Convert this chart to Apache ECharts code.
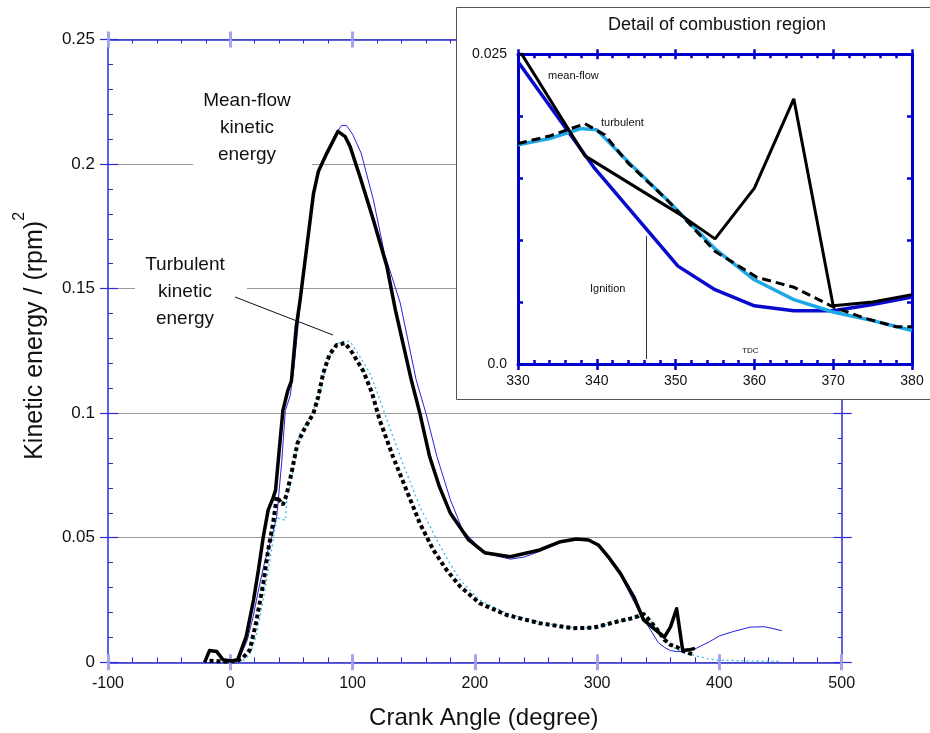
<!DOCTYPE html>
<html><head><meta charset="utf-8">
<script src="https://cdn.jsdelivr.net/npm/echarts@6/dist/echarts.min.js"></script>
<style>html,body{margin:0;padding:0;background:#fff}#c{width:930px;height:733px}</style>
</head><body><div id="c"></div>
<script>
// ---------- DATA (crank angle [deg], kinetic energy [(rpm)^2]) ----------
const mainXTicks = [-100, 0, 100, 200, 300, 400, 500];
const mainYTicks = [0, 0.05, 0.1, 0.15, 0.2, 0.25];
const insetXTicks = [330, 340, 350, 360, 370, 380];
const insetYLabelValues = [0, 0.025];
const insetYLabelTexts = ['0.0', '0.025'];

// mean-flow kinetic energy, thin blue curve
const meanFlowBlue = [[-21,0],[-17,0.0045],[-12,0.0042],[-6,0.001],[1,0.0005],[7,0.001],[14,0.009],[19,0.019],[23,0.029],[28,0.04],[34,0.0504],[38,0.0585],[42,0.08],[45,0.101],[49,0.107],[52,0.118],[57,0.143],[68,0.188],[72,0.196],[79,0.205],[86,0.212],[91,0.2155],[95,0.2155],[100,0.212],[107,0.2044],[117,0.1857],[126,0.1643],[139,0.1442],[152,0.1134],[160,0.1],[169,0.0826],[180,0.0652],[190,0.0531],[208,0.0438],[229,0.0414],[240,0.0422],[253,0.0445],[270,0.048],[283,0.0494],[293,0.049],[301,0.0466],[310,0.041],[319,0.035],[330,0.0244],[340,0.0159],[350,0.0079],[355,0.006],[360,0.0047],[365,0.0043],[370,0.0043],[381,0.0056],[392,0.0083],[400,0.0106],[411,0.0123],[425,0.0141],[437,0.0143],[451,0.0127]];
// mean-flow kinetic energy, thick black curve
const meanFlowBlack = [[-21,0],[-17,0.0047],[-11,0.0043],[-6,0.001],[1,0.0005],[6,0.001],[13,0.0103],[19,0.025],[23,0.037],[27,0.0504],[31,0.0612],[35,0.066],[37,0.069],[43,0.101],[47,0.109],[50,0.113],[54,0.135],[57,0.145],[68,0.188],[72,0.197],[79,0.2044],[88,0.2131],[94,0.211],[98,0.207],[106,0.195],[117,0.1776],[128,0.159],[135,0.1415],[148,0.1134],[155,0.1],[163,0.0826],[171,0.0705],[180,0.0598],[195,0.0491],[208,0.044],[229,0.0424],[253,0.0451],[270,0.0484],[283,0.0495],[293,0.0491],[301,0.0471],[310,0.0418],[319,0.0357],[330,0.0263],[338,0.017],[346,0.0137],[355,0.0101],[360,0.0142],[365,0.0215],[370,0.0047],[375,0.005],[380,0.0056]];
// turbulent kinetic energy, thin cyan dotted curve
const turbulentCyan = [[-10,0.0003],[0,0.0002],[10,0.0005],[16,0.003],[21,0.0103],[27,0.025],[32,0.04],[36,0.052],[38,0.058],[42,0.0575],[45,0.057],[47,0.0685],[49,0.0705],[53,0.082],[57,0.092],[66,0.0986],[73,0.108],[78,0.118],[83,0.1254],[88,0.128],[92,0.1288],[98,0.1288],[106,0.1227],[113,0.117],[117,0.1127],[128,0.0975],[141,0.08],[155,0.0625],[169,0.0491],[178,0.041],[188,0.033],[204,0.025],[226,0.0197],[253,0.016],[280,0.0138],[297,0.0139],[316,0.0162],[330,0.0177],[334,0.0182],[338,0.019],[340,0.0189],[349,0.0132],[355,0.0093],[360,0.0068],[365,0.0052],[370,0.0042],[375,0.0035],[380,0.0027],[390,0.0015],[398,0.0009],[420,0.0006],[450,0.0004]];
// turbulent kinetic energy, thick black dotted curve
const turbulentBlack = [[-17,0.0006],[-5,0.0003],[5,0.0005],[10,0.0016],[16,0.005],[21,0.0157],[27,0.0317],[31,0.0451],[35,0.0558],[38,0.0665],[43,0.0632],[46,0.0672],[50,0.0759],[55,0.088],[61,0.094],[68,0.1],[72,0.1067],[76,0.116],[81,0.1234],[87,0.1274],[94,0.1281],[100,0.1241],[109,0.1167],[116,0.108],[122,0.0975],[133,0.0826],[144,0.0692],[155,0.0558],[166,0.0451],[177,0.037],[188,0.0304],[204,0.0237],[226,0.019],[253,0.0157],[280,0.0137],[297,0.0139],[316,0.0163],[330,0.0178],[338,0.0194],[344,0.0162],[349,0.0132],[355,0.0091],[360,0.007],[365,0.0062],[370,0.0046],[375,0.0037],[380,0.003]];

// inset: detail of combustion region
const insetMeanBlack = [[330,0.0255],[338.5,0.0168],[350.5,0.0121],[355,0.0101],[360,0.0142],[365,0.0214],[370,0.0047],[375,0.005],[380,0.0056]];
const insetMeanBlue = [[330,0.0244],[339.6,0.0159],[350.3,0.0079],[355,0.006],[360,0.0047],[365,0.0043],[370,0.0043],[375,0.0048],[380,0.0054]];
const insetTurbBlack = [[330,0.0178],[334,0.0184],[338.5,0.0194],[341,0.0185],[344,0.0162],[349,0.0132],[355,0.0091],[358.8,0.0076],[360.3,0.007],[365,0.0062],[370,0.0046],[374,0.0037],[378,0.003],[380,0.003]];
const insetTurbCyan = [[330,0.0177],[334,0.0182],[338,0.019],[340,0.0189],[344,0.0163],[349,0.0132],[355,0.0093],[360,0.0068],[365,0.0052],[370,0.0042],[375,0.0035],[380,0.0027]];

// ---------- STYLE ----------
const FONT = 'Liberation Sans';
const AX = '#2b2bd6';
const MAJ = '#a4a4f0';
const IAX = '#0000cc';
const chart = echarts.init(document.getElementById('c'), null, {renderer: 'canvas'});

function axisBase(extra) {
  return Object.assign({
    type: 'value', splitLine: {show: false}, axisLabel: {show: false},
    minorTick: {show: false}, axisLine: {show: false, onZero: false}
  }, extra);
}

const xAxes = [
  // main grid
  axisBase({gridIndex: 0, position: 'bottom', min: mainXTicks[0], max: mainXTicks[mainXTicks.length-1], interval: 100,
    axisLine: {show: true, onZero: false, lineStyle: {color: AX, width: 1.5}},
    axisTick: {show: true, inside: true, length: 8, lineStyle: {color: MAJ, width: 3}},
    minorTick: {show: true, splitNumber: 5, length: 5, lineStyle: {color: AX, width: 1}},
    axisLabel: {show: true, fontSize: 16, fontFamily: FONT, color: '#111', margin: 13},
    name: 'Crank Angle (degree)', nameLocation: 'middle', nameGap: 44,
    nameTextStyle: {fontSize: 24, fontFamily: FONT, color: '#111', padding: [0, 0, 0, 18]}}),
  axisBase({gridIndex: 0, position: 'bottom', min: -100, max: 500, interval: 100,
    axisTick: {show: true, inside: false, length: 8, lineStyle: {color: MAJ, width: 3}}}),
  axisBase({gridIndex: 0, position: 'top', min: -100, max: 500, interval: 100,
    axisLine: {show: true, onZero: false, lineStyle: {color: AX, width: 1.5}},
    axisTick: {show: true, inside: true, length: 8, lineStyle: {color: MAJ, width: 3}},
    minorTick: {show: true, splitNumber: 5, length: 4, lineStyle: {color: AX, width: 1}}}),
  axisBase({gridIndex: 0, position: 'top', min: -100, max: 500, interval: 100,
    axisTick: {show: true, inside: false, length: 8, lineStyle: {color: MAJ, width: 3}}}),
  // inset grid
  axisBase({gridIndex: 1, position: 'bottom', min: insetXTicks[0], max: insetXTicks[insetXTicks.length-1], interval: 10, z: 12,
    axisLine: {show: true, onZero: false, lineStyle: {color: IAX, width: 3}},
    axisTick: {show: true, inside: true, length: 5, lineStyle: {color: IAX, width: 2.5}},
    minorTick: {show: true, splitNumber: 5, length: 4, lineStyle: {color: IAX, width: 2.5}},
    axisLabel: {show: true, fontSize: 14, fontFamily: FONT, color: '#111', margin: 10}}),
  axisBase({gridIndex: 1, position: 'bottom', min: 330, max: 380, interval: 10, z: 12,
    axisTick: {show: true, inside: false, length: 6, lineStyle: {color: IAX, width: 2.5}}}),
  axisBase({gridIndex: 1, position: 'top', min: 330, max: 380, interval: 10, z: 12,
    axisLine: {show: true, onZero: false, lineStyle: {color: IAX, width: 3}},
    axisTick: {show: true, inside: true, length: 5, lineStyle: {color: IAX, width: 2.5}},
    minorTick: {show: true, splitNumber: 5, length: 4, lineStyle: {color: IAX, width: 2.5}}}),
  axisBase({gridIndex: 1, position: 'top', min: 330, max: 380, interval: 10, z: 12,
    axisTick: {show: true, inside: false, length: 5, lineStyle: {color: IAX, width: 2.5}}})
];

const yAxes = [
  axisBase({gridIndex: 0, position: 'left', min: mainYTicks[0], max: mainYTicks[mainYTicks.length-1], interval: 0.05,
    axisLine: {show: true, onZero: false, lineStyle: {color: AX, width: 1.5}},
    axisTick: {show: true, inside: true, length: 10, lineStyle: {color: AX, width: 1.2}},
    minorTick: {show: true, splitNumber: 5, length: 5, lineStyle: {color: AX, width: 1}},
    splitLine: {show: true, lineStyle: {color: '#9a9a9a', width: 1}},
    axisLabel: {show: true, fontSize: 17, fontFamily: FONT, color: '#111', margin: 13},
    name: '{a|Kinetic energy / (rpm)}{s|2}', nameLocation: 'middle', nameGap: 60, nameRotate: 90,
    nameTextStyle: {padding: [0, 0, 0, 30], rich: {
      a: {fontSize: 25, fontFamily: FONT, color: '#111', lineHeight: 36, verticalAlign: 'bottom'},
      s: {fontSize: 16, fontFamily: FONT, color: '#111', verticalAlign: 'top'}}}}),
  axisBase({gridIndex: 0, position: 'left', min: 0, max: 0.25, interval: 0.05,
    axisTick: {show: true, inside: false, length: 8, lineStyle: {color: AX, width: 1.2}}}),
  axisBase({gridIndex: 0, position: 'right', min: 0, max: 0.25, interval: 0.05,
    axisLine: {show: true, onZero: false, lineStyle: {color: AX, width: 1.5}},
    axisTick: {show: true, inside: true, length: 8, lineStyle: {color: AX, width: 1.2}},
    minorTick: {show: true, splitNumber: 5, length: 4, lineStyle: {color: AX, width: 1}}}),
  axisBase({gridIndex: 0, position: 'right', min: 0, max: 0.25, interval: 0.05,
    axisTick: {show: true, inside: false, length: 10, lineStyle: {color: AX, width: 1.2}}}),
  axisBase({gridIndex: 1, position: 'left', min: 0, max: 0.025, interval: 0.005, z: 12,
    axisLine: {show: true, onZero: false, lineStyle: {color: IAX, width: 3}},
    axisTick: {show: true, inside: true, length: 5, lineStyle: {color: IAX, width: 2.5}},
    axisLabel: {show: true, fontSize: 14, fontFamily: FONT, color: '#111', margin: 11,
      formatter: function (v) {
        for (let i = 0; i < insetYLabelValues.length; i++) {
          if (Math.abs(v - insetYLabelValues[i]) < 1e-9) return insetYLabelTexts[i];
        }
        return '';
      }}}),
  axisBase({gridIndex: 1, position: 'right', min: 0, max: 0.025, interval: 0.005, z: 12,
    axisLine: {show: true, onZero: false, lineStyle: {color: IAX, width: 3}},
    axisTick: {show: true, inside: true, length: 5, lineStyle: {color: IAX, width: 2.5}}})
];

function line(data, xi, yi, style, z) {
  return {type: 'line', data: data, xAxisIndex: xi, yAxisIndex: yi, symbol: 'none', showSymbol: false,
    lineStyle: style, z: z, silent: true};
}

const series = [
  line(meanFlowBlue, 0, 0, {color: '#2222dd', width: 1}, 2),
  line(turbulentCyan, 0, 0, {color: '#33bbee', width: 1.3, type: [2, 3]}, 2),
  line(meanFlowBlack, 0, 0, {color: '#000', width: 3.5, join: 'round'}, 3),
  line(turbulentBlack, 0, 0, {color: '#000', width: 4, type: [4, 3]}, 3),
  line(insetMeanBlue, 4, 4, {color: '#0a0acc', width: 3.5}, 13),
  line(insetMeanBlack, 4, 4, {color: '#000', width: 3}, 14),
  line(insetTurbCyan, 4, 4, {color: '#1fa8e6', width: 3.5}, 13),
  line(insetTurbBlack, 4, 4, {color: '#000', width: 3, type: [9, 5]}, 14)
];

const txt = (x, y, text, size, extra) => ({type: 'text', x: x, y: y, z: 15,
  style: Object.assign({text: text, fontSize: size, fontFamily: FONT, fill: '#111', align: 'left', verticalAlign: 'middle'}, extra || {})});

const graphic = [
  // label boxes on the main chart
  {type: 'rect', shape: {x: 193, y: 86, width: 119, height: 81}, style: {fill: '#fff'}, z: 3},
  {type: 'text', x: 247, y: 128, z: 4, style: {text: 'Mean-flow\nkinetic\nenergy', fontSize: 19, fontFamily: FONT, fill: '#111', align: 'center', verticalAlign: 'middle', lineHeight: 27}},
  {type: 'rect', shape: {x: 135, y: 252, width: 112, height: 80}, style: {fill: '#fff'}, z: 3},
  {type: 'text', x: 185, y: 292, z: 4, style: {text: 'Turbulent\nkinetic\nenergy', fontSize: 19, fontFamily: FONT, fill: '#111', align: 'center', verticalAlign: 'middle', lineHeight: 27}},
  {type: 'line', shape: {x1: 235, y1: 297, x2: 333, y2: 335}, style: {stroke: '#111', lineWidth: 1}, z: 4},
  // inset panel
  {type: 'rect', shape: {x: 456.5, y: 7.5, width: 480, height: 392}, style: {fill: '#fff', stroke: '#555', lineWidth: 1}, z: 10},
  {type: 'text', x: 717, y: 25, z: 15, style: {text: 'Detail of combustion region', fontSize: 18, fontFamily: FONT, fill: '#111', align: 'center', verticalAlign: 'middle'}},
  txt(548, 76, 'mean-flow', 11),
  txt(601, 123, 'turbulent', 11),
  txt(590, 289, 'Ignition', 11),
  txt(742, 351, 'TDC', 8),
  {type: 'line', shape: {x1: 646.5, y1: 236, x2: 646.5, y2: 359}, style: {stroke: '#333', lineWidth: 1}, z: 15}
];

chart.setOption({
  animation: false,
  backgroundColor: '#fff',
  grid: [
    {left: 108, top: 39.5, width: 733.7, height: 622.8, containLabel: false, outerBoundsMode: 'none'},
    {left: 518, top: 54.3, width: 394, height: 309.7, containLabel: false, outerBoundsMode: 'none', z: 12}
  ],
  xAxis: xAxes,
  yAxis: yAxes,
  series: series,
  graphic: graphic
});
</script></body></html>
